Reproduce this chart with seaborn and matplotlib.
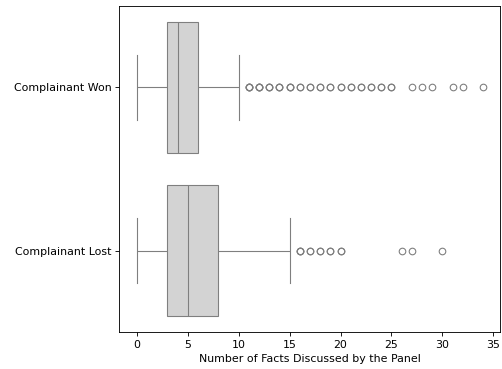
import numpy as np
import pandas as pd
import matplotlib
matplotlib.use("Agg")
import matplotlib.pyplot as plt
import seaborn as sns

categories = ["Complainant Won", "Complainant Lost"]

won_values = [0, 1, 2, 3, 4, 5, 6, 7, 8, 9, 10,
              11, 12, 13, 14, 15, 16, 17, 18, 19, 20, 21, 22, 23, 24, 25,
              27, 28, 29, 31, 32, 34]
won_counts = [10, 25, 40, 60, 90, 50, 40, 20, 12, 7, 4,
              4, 4, 3, 3, 3, 2, 2, 2, 2, 2, 2, 2, 2, 2, 2,
              1, 1, 1, 1, 1, 1]

lost_values = [0, 1, 2, 3, 4, 5, 6, 7, 8, 9, 10, 11, 12, 13, 14, 15,
               16, 17, 18, 19, 20, 26, 27, 30]
lost_counts = [6, 12, 20, 20, 24, 26, 20, 16, 12, 9, 7, 5, 4, 3, 2, 1,
               3, 2, 2, 2, 2, 1, 1, 1]

xlabel = "Number of Facts Discussed by the Panel"

won = np.repeat(won_values, won_counts)
lost = np.repeat(lost_values, lost_counts)
df = pd.DataFrame({
    "facts": np.concatenate([won, lost]),
    "outcome": [categories[0]] * len(won) + [categories[1]] * len(lost),
})

DPI = 79
fig, ax = plt.subplots(figsize=(502 / DPI, 369 / DPI), dpi=DPI)
fig.subplots_adjust(left=0.238, right=0.997, top=0.984, bottom=0.1)

sns.boxplot(data=df, x="facts", y="outcome", order=categories,
            color="lightgray", ax=ax)
ax.set_xlabel(xlabel)
ax.set_ylabel("")

fig.savefig("out.png", dpi=DPI)
